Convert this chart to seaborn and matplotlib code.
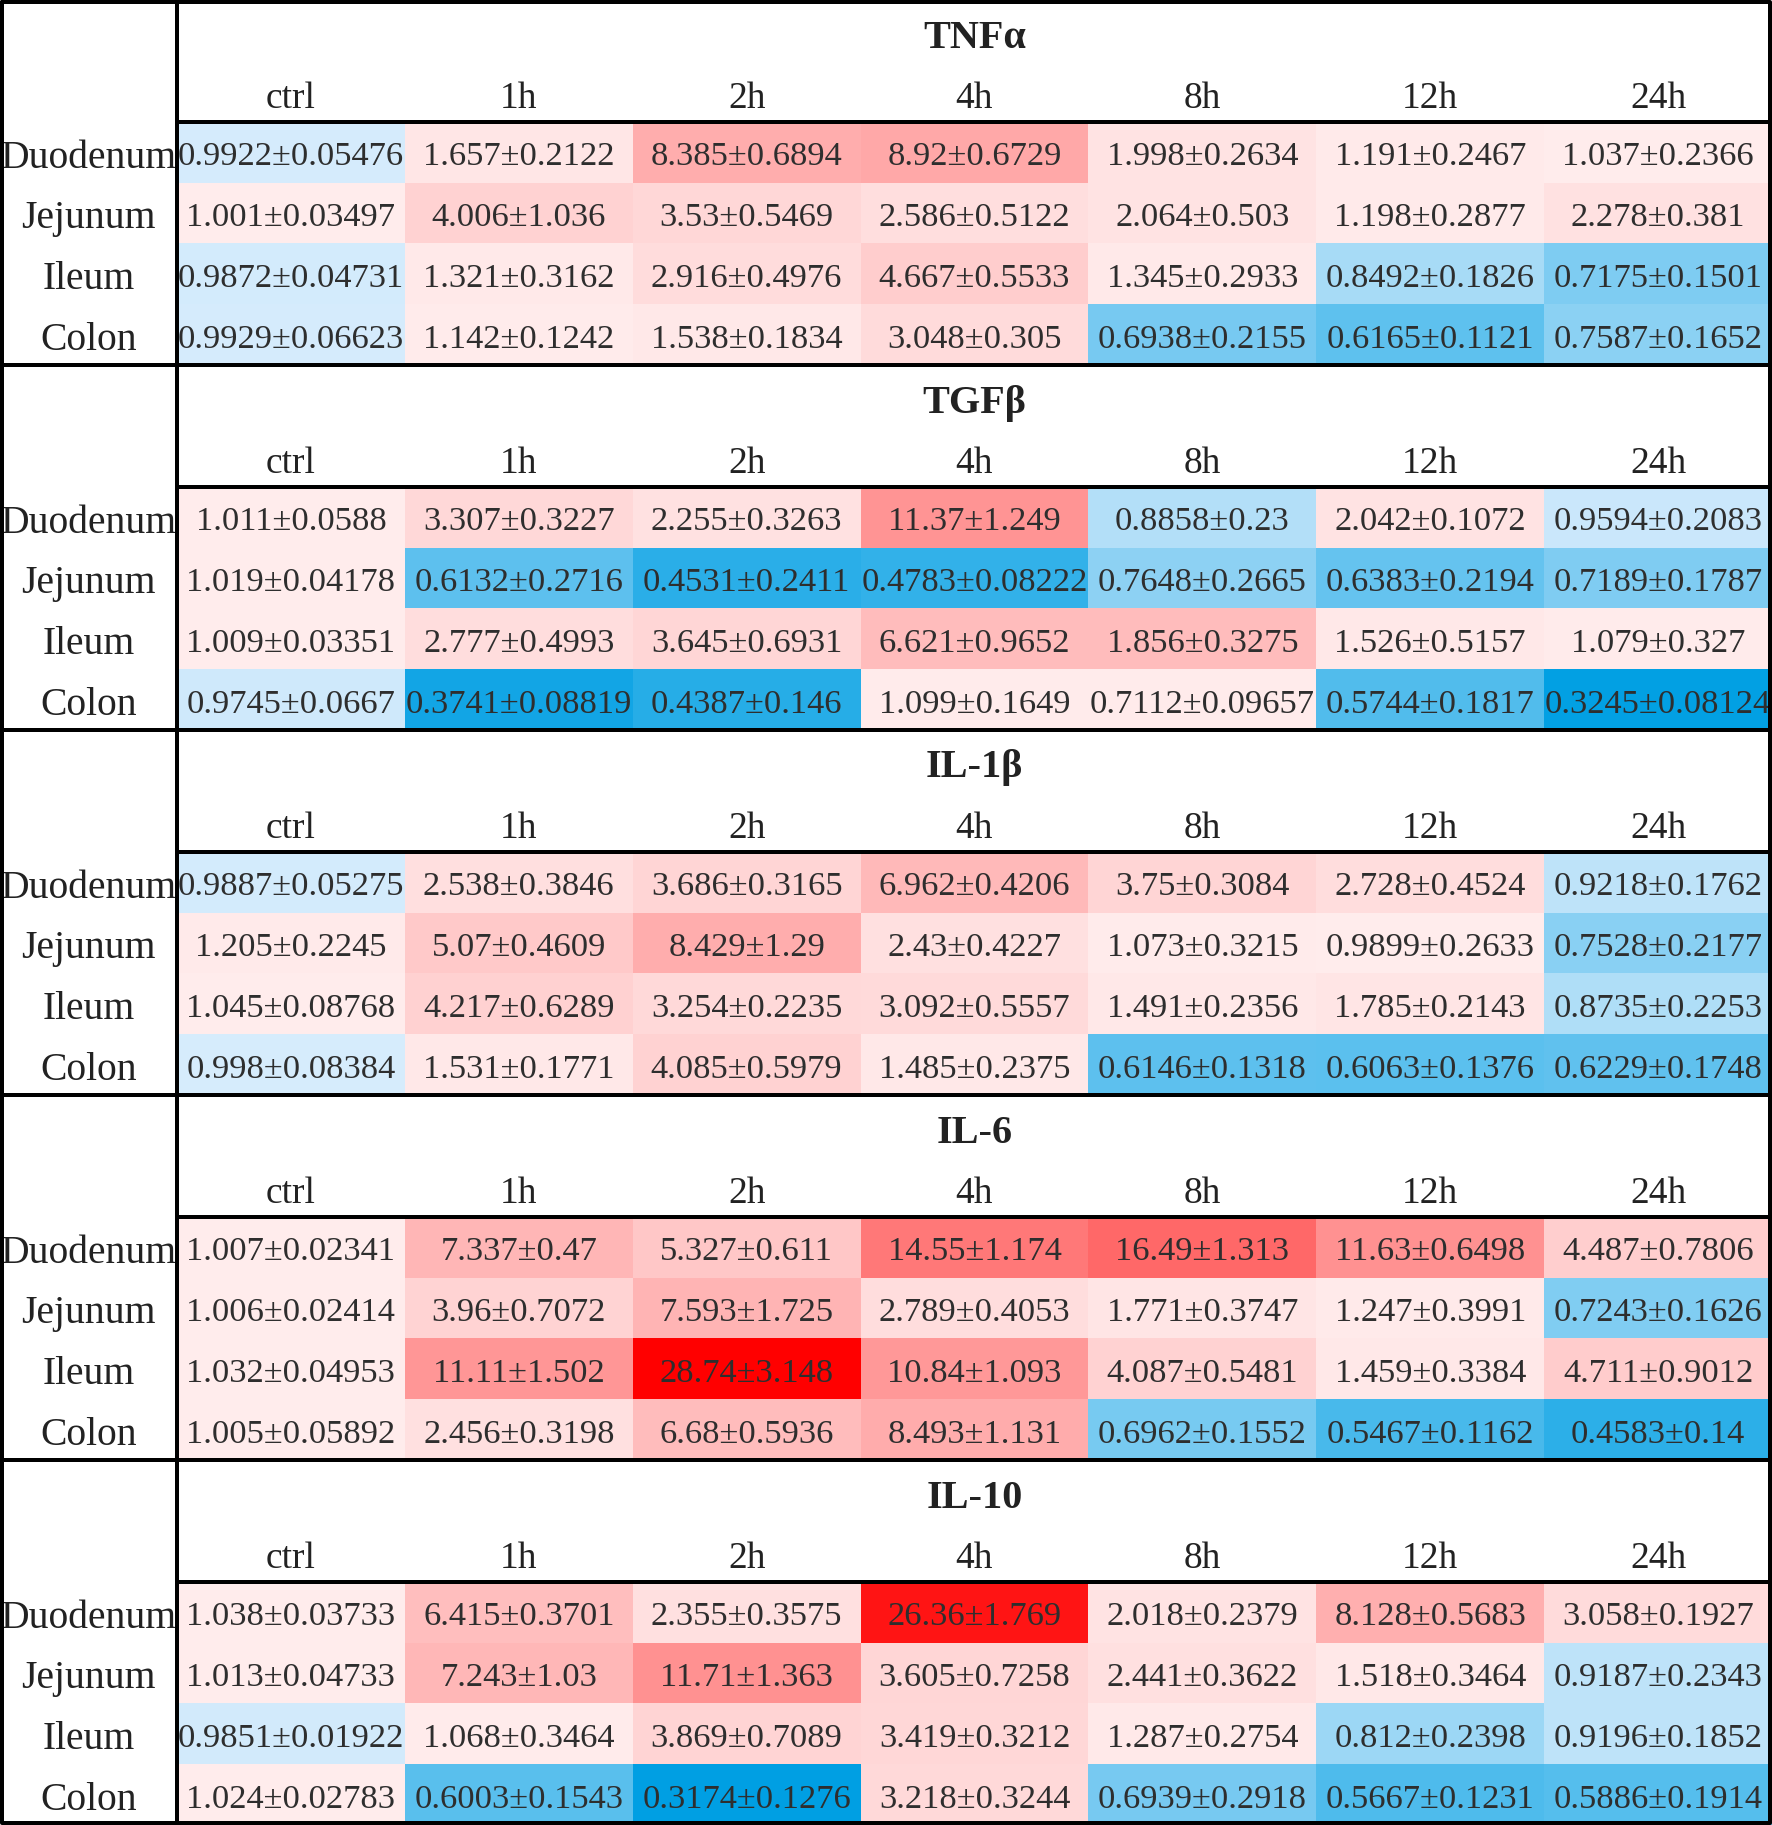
import numpy as np
import pandas as pd
import matplotlib.pyplot as plt
import seaborn as sns
from matplotlib.colors import LinearSegmentedColormap, TwoSlopeNorm
from matplotlib.transforms import ScaledTranslation

sns.set_style("white")
plt.rcParams['font.family'] = ['Liberation Serif', 'DejaVu Serif']

times = ["ctrl", "1h", "2h", "4h", "8h", "12h", "24h"]
tissues = ["Duodenum", "Jejunum", "Ileum", "Colon"]
cytokines = ["TNFα", "TGFβ", "IL-1β", "IL-6", "IL-10"]

# mean and sd per tissue (rows) and time point (columns)
tnfa_mean = [[0.9922, 1.657, 8.385, 8.92, 1.998, 1.191, 1.037],
             [1.001, 4.006, 3.53, 2.586, 2.064, 1.198, 2.278],
             [0.9872, 1.321, 2.916, 4.667, 1.345, 0.8492, 0.7175],
             [0.9929, 1.142, 1.538, 3.048, 0.6938, 0.6165, 0.7587]]
tnfa_sd = [[0.05476, 0.2122, 0.6894, 0.6729, 0.2634, 0.2467, 0.2366],
           [0.03497, 1.036, 0.5469, 0.5122, 0.503, 0.2877, 0.381],
           [0.04731, 0.3162, 0.4976, 0.5533, 0.2933, 0.1826, 0.1501],
           [0.06623, 0.1242, 0.1834, 0.305, 0.2155, 0.1121, 0.1652]]

tgfb_mean = [[1.011, 3.307, 2.255, 11.37, 0.8858, 2.042, 0.9594],
             [1.019, 0.6132, 0.4531, 0.4783, 0.7648, 0.6383, 0.7189],
             [1.009, 2.777, 3.645, 6.621, 1.856, 1.526, 1.079],
             [0.9745, 0.3741, 0.4387, 1.099, 0.7112, 0.5744, 0.3245]]
tgfb_sd = [[0.0588, 0.3227, 0.3263, 1.249, 0.23, 0.1072, 0.2083],
           [0.04178, 0.2716, 0.2411, 0.08222, 0.2665, 0.2194, 0.1787],
           [0.03351, 0.4993, 0.6931, 0.9652, 0.3275, 0.5157, 0.327],
           [0.0667, 0.08819, 0.146, 0.1649, 0.09657, 0.1817, 0.08124]]

il1b_mean = [[0.9887, 2.538, 3.686, 6.962, 3.75, 2.728, 0.9218],
             [1.205, 5.07, 8.429, 2.43, 1.073, 0.9899, 0.7528],
             [1.045, 4.217, 3.254, 3.092, 1.491, 1.785, 0.8735],
             [0.998, 1.531, 4.085, 1.485, 0.6146, 0.6063, 0.6229]]
il1b_sd = [[0.05275, 0.3846, 0.3165, 0.4206, 0.3084, 0.4524, 0.1762],
           [0.2245, 0.4609, 1.29, 0.4227, 0.3215, 0.2633, 0.2177],
           [0.08768, 0.6289, 0.2235, 0.5557, 0.2356, 0.2143, 0.2253],
           [0.08384, 0.1771, 0.5979, 0.2375, 0.1318, 0.1376, 0.1748]]

il6_mean = [[1.007, 7.337, 5.327, 14.55, 16.49, 11.63, 4.487],
            [1.006, 3.96, 7.593, 2.789, 1.771, 1.247, 0.7243],
            [1.032, 11.11, 28.74, 10.84, 4.087, 1.459, 4.711],
            [1.005, 2.456, 6.68, 8.493, 0.6962, 0.5467, 0.4583]]
il6_sd = [[0.02341, 0.47, 0.611, 1.174, 1.313, 0.6498, 0.7806],
          [0.02414, 0.7072, 1.725, 0.4053, 0.3747, 0.3991, 0.1626],
          [0.04953, 1.502, 3.148, 1.093, 0.5481, 0.3384, 0.9012],
          [0.05892, 0.3198, 0.5936, 1.131, 0.1552, 0.1162, 0.14]]

il10_mean = [[1.038, 6.415, 2.355, 26.36, 2.018, 8.128, 3.058],
             [1.013, 7.243, 11.71, 3.605, 2.441, 1.518, 0.9187],
             [0.9851, 1.068, 3.869, 3.419, 1.287, 0.812, 0.9196],
             [1.024, 0.6003, 0.3174, 3.218, 0.6939, 0.5667, 0.5886]]
il10_sd = [[0.03733, 0.3701, 0.3575, 1.769, 0.2379, 0.5683, 0.1927],
           [0.04733, 1.03, 1.363, 0.7258, 0.3622, 0.3464, 0.2343],
           [0.01922, 0.3464, 0.7089, 0.3212, 0.2754, 0.2398, 0.1852],
           [0.02783, 0.1543, 0.1276, 0.3244, 0.2918, 0.1231, 0.1914]]

# cell shading follows the mean, except a few cells the source coloured differently
tgfb_shade = [row[:] for row in tgfb_mean]
tgfb_shade[2][4] = 6.621
tgfb_shade[3][4] = 1.099
il1b_shade = [row[:] for row in il1b_mean]
il1b_shade[1][5] = 1.0

panels = [(tnfa_mean, tnfa_sd, tnfa_mean),
          (tgfb_mean, tgfb_sd, tgfb_shade),
          (il1b_mean, il1b_sd, il1b_shade),
          (il6_mean, il6_sd, il6_mean),
          (il10_mean, il10_sd, il10_mean)]

# blue below 1, red above 1
cmap = LinearSegmentedColormap.from_list(
    "fold", [(0.0, "#009fe3"), (0.4999, "#d7ecfc"), (0.5, "#ffecec"), (1.0, "#ff0000")], N=1024)
all_vals = np.array([p[2] for p in panels])
norm = TwoSlopeNorm(vmin=all_vals.min(), vcenter=1.0, vmax=all_vals.max())

W, H = 1772, 1825
lab_w = 177
panel_h = H / 5
row_h = panel_h / 6
px2pt = 72 / 100

fig = plt.figure(figsize=(W / 100, H / 100), dpi=100)
shift = ScaledTranslation(0, -5 / 100, fig.dpi_scale_trans)

for k, (mean, sd, shade) in enumerate(panels):
    ax = fig.add_axes([lab_w / W, 1 - (k + 1) * panel_h / H, 1 - lab_w / W, 4 * row_h / H])
    df = pd.DataFrame(shade, index=tissues, columns=times)
    labels = np.array([[f"{m}±{s}" for m, s in zip(mr, sr)] for mr, sr in zip(mean, sd)])
    sns.heatmap(df, ax=ax, cmap=cmap, norm=norm, annot=labels, fmt="", cbar=False,
                xticklabels=times, yticklabels=tissues,
                annot_kws=dict(fontsize=24.8, color="#2e2e2e"))
    for t in ax.texts:
        t.set_transform(t.get_transform() + shift)
    ax.xaxis.tick_top()
    ax.set_xticklabels(times, fontsize=27, color="#222222")
    # row labels sit a little below the row centre, like the cell text
    ax.set_yticks(np.arange(len(tissues)) + 0.5 + 6 / row_h)
    ax.set_yticklabels(tissues, rotation=0, ha="center", fontsize=28.5, color="#222222")
    ax.tick_params(axis="x", length=0, pad=6 * px2pt)
    ax.tick_params(axis="y", length=0, pad=lab_w / 2 * px2pt)
    ax.set_xlabel("")
    ax.set_ylabel("")
    ax.text(3.5, -(2 * row_h - 38) / row_h, cytokines[k], ha="center", va="center",
            fontsize=29, fontweight="bold", color="#222222")

# table rules on top of everything
ln = fig.add_axes([0, 0, 1, 1], zorder=5)
ln.set_xlim(0, W)
ln.set_ylim(H, 0)
ln.axis("off")
lw = 4 * px2pt
ln.plot([2, W - 2, W - 2, 2, 2], [2, 2, H - 2, H - 2, 2], color="black", lw=lw)
ln.plot([lab_w, lab_w], [0, H], color="black", lw=lw)
for k in range(5):
    if k > 0:
        ln.plot([0, W], [k * panel_h, k * panel_h], color="black", lw=lw)
    y = k * panel_h + 2 * row_h
    ln.plot([lab_w, W], [y, y], color="black", lw=lw)

plt.savefig("out.png", dpi=100)
